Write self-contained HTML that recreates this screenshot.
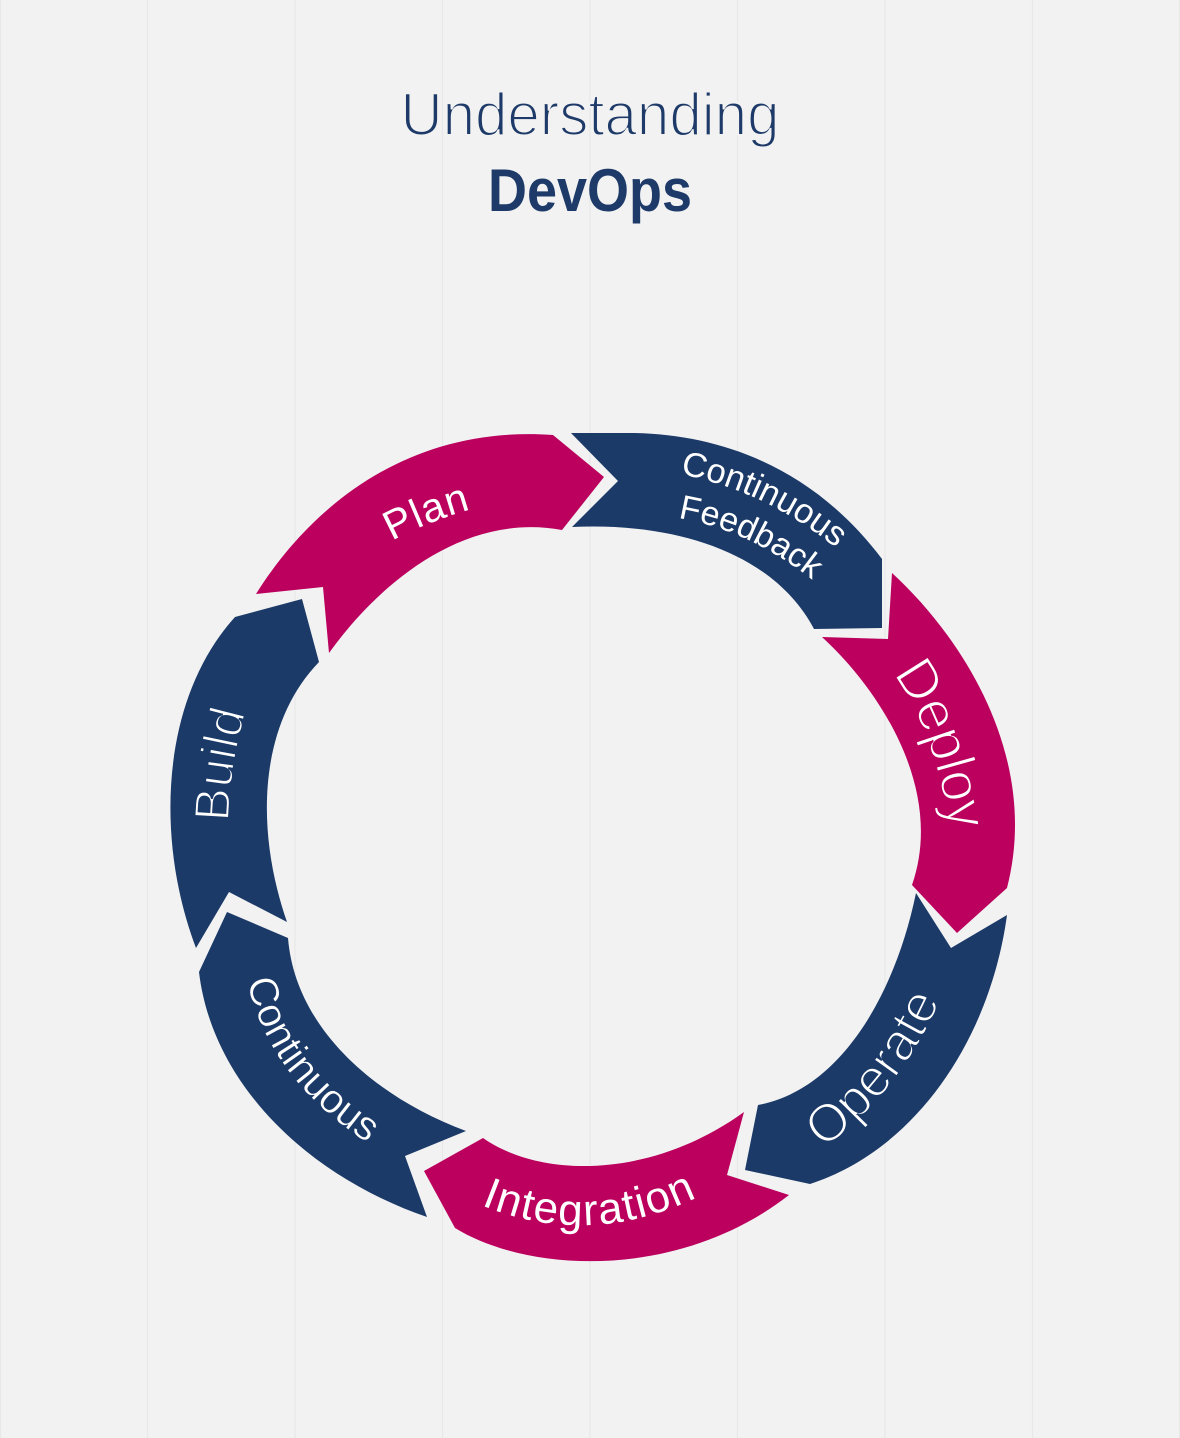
<!DOCTYPE html>
<html><head><meta charset="utf-8"><style>html,body{margin:0;padding:0;background:#f2f2f2}svg{display:block}text{font-family:"Liberation Sans",sans-serif}</style></head><body>
<svg width="1180" height="1438" viewBox="0 0 1180 1438" xmlns="http://www.w3.org/2000/svg">
<rect width="1180" height="1438" fill="#f2f2f2"/>
<g stroke="#e8e8e8" stroke-width="1.2">
<path d="M0.5 0V1438M147.5 0V1438M295 0V1438M442.5 0V1438M590 0V1438M737.5 0V1438M885 0V1438M1032.5 0V1438M1179.5 0V1438"/>
</g>
<text x="590" y="135" text-anchor="middle" font-size="60" textLength="379" lengthAdjust="spacingAndGlyphs" fill="#1d3a68" stroke="#f2f2f2" stroke-width="2">Understanding</text>
<text x="590" y="211" text-anchor="middle" font-size="60" font-weight="700" textLength="204" lengthAdjust="spacingAndGlyphs" fill="#1d3a68">DevOps</text>
<g>
<path fill="#bb005e" d="M256 594C315 500 415 425 553 435L604 477L562 530C465 512 380 582 329 653L323 587Z"/>
<path fill="#1b3a68" d="M571 433L635 433C725 435 815 470 882 559L882 628L814 629C775 555 680 522 572 527L618 481Z"/>
<path fill="#bb005e" d="M822 637L888 639L892 573C965 640 1040 760 1007 888L957 933L912 885C945 790 880 690 822 637Z"/>
<path fill="#1b3a68" d="M916 893L951 948L1007 915C990 1040 915 1150 810 1184L745 1170L758 1105C840 1090 895 995 916 893Z"/>
<path fill="#bb005e" d="M424 1171L483 1138C540 1178 650 1180 744 1112L727 1175L789 1195C680 1280 530 1274 455 1228Z"/>
<path fill="#1b3a68" d="M227 912L288 938C295 1025 370 1095 466 1131L405 1156L427 1217C305 1175 212 1082 199 972Z"/>
<path fill="#1b3a68" d="M302 599L319 662C258 725 255 830 287 922L229 892L196 948C155 840 160 700 235 617Z"/>
</g>
<defs>
<path id="pPlan" d="M392 541Q430 520 480 507"/>
<path id="pCF" d="M680 474Q770 492 842 553"/>
<path id="pFB" d="M678 518Q750 530 815 582"/>
<path id="pDep" d="M892 674Q932 724 950 830"/>
<path id="pOp" d="M823 1149Q905 1090 947 985"/>
<path id="pInt" d="M481 1205Q590 1250 702 1195"/>
<path id="pCo" d="M247 981Q270 1085 382 1152"/>
<path id="pBu" d="M229 822Q230 765 248 705"/>
</defs>
<g fill="#fff">
<text font-size="41" letter-spacing="1"><textPath href="#pPlan">Plan</textPath></text>
<text font-size="34.5"><textPath href="#pCF">Continuous</textPath></text>
<text font-size="34"><textPath href="#pFB">Feedback</textPath></text>
<text font-size="56" letter-spacing="-1" stroke="#bb005e" stroke-width="1.8"><textPath href="#pDep">Deploy</textPath></text>
<text font-size="53" stroke="#1b3a68" stroke-width="1.8"><textPath href="#pOp">Operate</textPath></text>
<text font-size="44" letter-spacing="1.5"><textPath href="#pInt">Integration</textPath></text>
<text font-size="41" stroke="#1b3a68" stroke-width="0.5"><textPath href="#pCo">Continuous</textPath></text>
<text font-size="50" stroke="#1b3a68" stroke-width="1.8"><textPath href="#pBu">Build</textPath></text>
</g>
</svg>
</body></html>
